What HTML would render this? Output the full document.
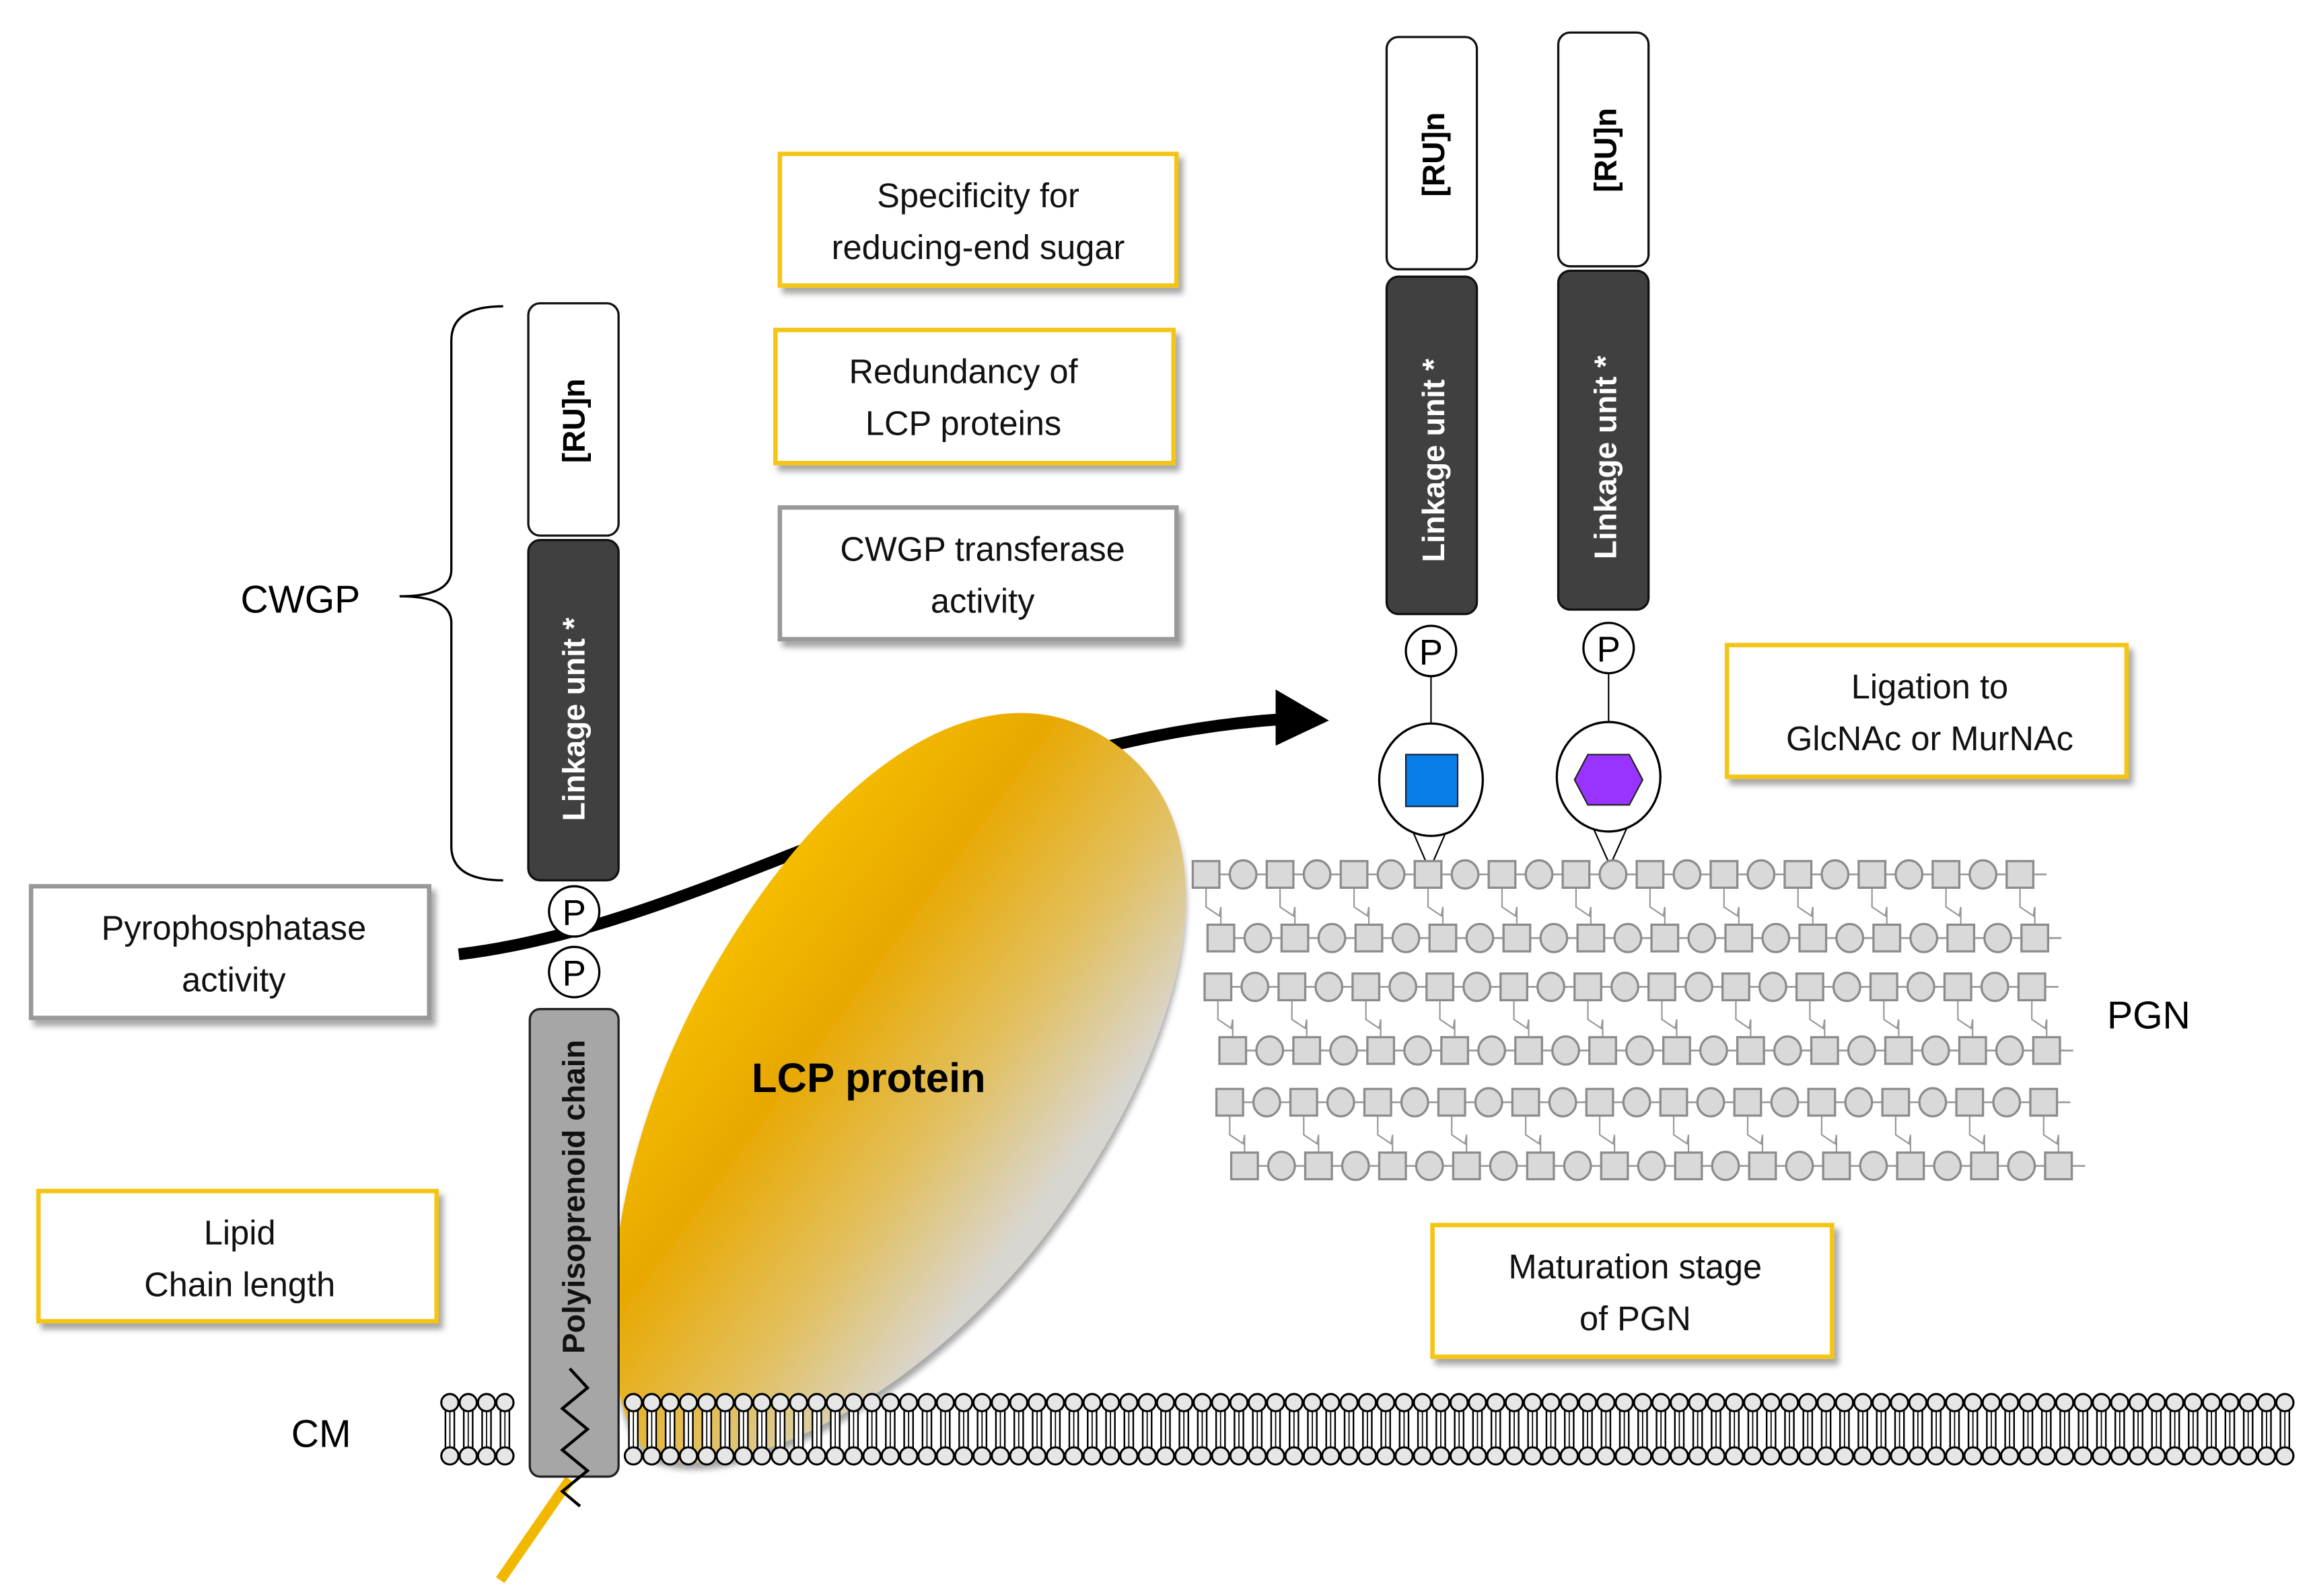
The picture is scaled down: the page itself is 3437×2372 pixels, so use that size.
<!DOCTYPE html>
<html><head><meta charset="utf-8"><style>
html,body{margin:0;padding:0;background:#fff;}
svg{display:block;}
text{font-family:"Liberation Sans",sans-serif;}
</style></head><body>
<svg width="3437" height="2372" viewBox="0 0 1563 1078.7" preserveAspectRatio="none" xmlns="http://www.w3.org/2000/svg">
<defs>
<linearGradient id="lcp" x1="0" y1="0" x2="1" y2="0.15">
<stop offset="0" stop-color="#f7c000"/><stop offset="0.35" stop-color="#e8a800"/><stop offset="0.7" stop-color="#e2c060"/><stop offset="1" stop-color="#d8d6d0"/>
</linearGradient>
<filter id="sh" x="-10%" y="-10%" width="130%" height="140%"><feDropShadow dx="3" dy="4" stdDeviation="2" flood-color="#000" flood-opacity="0.35"/></filter>
</defs>

<path d="M310,645 C480,625 650,500 868,486" fill="none" stroke="#000" stroke-width="8"/>
<polygon points="862,466 898,487 862,504" fill="#000"/>

<line x1="385" y1="1000" x2="338" y2="1068" stroke="#f2b800" stroke-width="7"/>
<g transform="translate(598,738) rotate(32)">
<path d="M0,-282 C105,-282 152,-150 145,0 C138,150 60,282 -5,292 C-60,282 -135,150 -142,0 C-150,-150 -105,-282 0,-282 Z" fill="url(#lcp)" filter="url(#sh)"/>
</g>
<text x="587" y="738" font-size="28" font-weight="bold" text-anchor="middle">LCP protein</text>

<rect x="358" y="682" width="60" height="316" rx="7" fill="#a6a6a6" stroke="#222" stroke-width="1.5"/>
<text transform="translate(395,915) rotate(-90)" font-size="21" font-weight="bold" fill="#111">Polyisoprenoid chain</text>
<polyline points="385,925 397,938 380,952 397,966 380,980 397,994 380,1008 392,1018" fill="none" stroke="#000" stroke-width="2"/>

<circle cx="388" cy="616" r="17" fill="#fff" stroke="#000" stroke-width="1.5"/>
<text x="388" y="625" font-size="24" text-anchor="middle">P</text>
<circle cx="388" cy="657" r="17" fill="#fff" stroke="#000" stroke-width="1.5"/>
<text x="388" y="666" font-size="24" text-anchor="middle">P</text>

<rect x="357" y="365" width="61" height="230" rx="8" fill="#404040" stroke="#111" stroke-width="1.5"/>
<text transform="translate(395,555) rotate(-90)" font-size="21" font-weight="bold" fill="#fff">Linkage unit *</text>
<rect x="357" y="205" width="61" height="157" rx="8" fill="#fff" stroke="#111" stroke-width="1.5"/>
<text transform="translate(395,313) rotate(-90)" font-size="21" font-weight="bold">[RU]n</text>
<path d="M340,207 Q305,207 305,230 L305,385 Q305,403 270,403 Q305,403 305,421 L305,572 Q305,595 340,595" fill="none" stroke="#000" stroke-width="1.5"/>
<text x="203" y="414" font-size="26" text-anchor="middle">CWGP</text>

<rect x="937" y="25" width="61" height="157" rx="8" fill="#fff" stroke="#111" stroke-width="1.5"/>
<text transform="translate(976,133) rotate(-90)" font-size="21" font-weight="bold">[RU]n</text>
<rect x="937" y="187" width="61" height="228" rx="8" fill="#404040" stroke="#111" stroke-width="1.5"/>
<text transform="translate(976,380) rotate(-90)" font-size="21" font-weight="bold" fill="#fff">Linkage unit *</text>
<rect x="1053" y="22" width="61" height="158" rx="8" fill="#fff" stroke="#111" stroke-width="1.5"/>
<text transform="translate(1092,130) rotate(-90)" font-size="21" font-weight="bold">[RU]n</text>
<rect x="1053" y="183" width="61" height="229" rx="8" fill="#404040" stroke="#111" stroke-width="1.5"/>
<text transform="translate(1092,378) rotate(-90)" font-size="21" font-weight="bold" fill="#fff">Linkage unit *</text>

<line x1="967" y1="457" x2="967" y2="510" stroke="#000" stroke-width="1"/>
<line x1="1087" y1="455" x2="1087" y2="508" stroke="#000" stroke-width="1"/>
<circle cx="967" cy="440" r="17" fill="#fff" stroke="#000" stroke-width="1.5"/>
<text x="967" y="449" font-size="24" text-anchor="middle">P</text>
<circle cx="1087" cy="438" r="17" fill="#fff" stroke="#000" stroke-width="1.5"/>
<text x="1087" y="447" font-size="24" text-anchor="middle">P</text>
<polygon points="953,558 966,588 979,558" fill="#fff" stroke="#000" stroke-width="1"/>
<ellipse cx="967" cy="527" rx="35" ry="38" fill="#fff" stroke="#000" stroke-width="1.5"/>
<rect x="950" y="510" width="35" height="35" fill="#0a7ee8" stroke="#123" stroke-width="1"/>
<polygon points="1075,556 1088,585 1101,556" fill="#fff" stroke="#000" stroke-width="1"/>
<ellipse cx="1087" cy="525" rx="35" ry="37" fill="#fff" stroke="#000" stroke-width="1.5"/>
<polygon points="1073,510 1101,510 1110,527 1101,544 1073,544 1064,527" fill="#9933ff" stroke="#222" stroke-width="1"/>

<g font-size="23" text-anchor="middle" fill="#111">
<rect x="527" y="104" width="268" height="89" fill="#fff" stroke="#f5c518" stroke-width="3" filter="url(#sh)"/>
<text x="661" y="140">Specificity for</text><text x="661" y="175">reducing-end sugar</text>
<rect x="524" y="223" width="269" height="90" fill="#fff" stroke="#f5c518" stroke-width="3" filter="url(#sh)"/>
<text x="651" y="259">Redundancy of</text><text x="651" y="294">LCP proteins</text>
<rect x="527" y="343" width="268" height="89" fill="#fff" stroke="#999" stroke-width="3" filter="url(#sh)"/>
<text x="664" y="379">CWGP transferase</text><text x="664" y="414">activity</text>
<rect x="21" y="599" width="269" height="89" fill="#fff" stroke="#999" stroke-width="3" filter="url(#sh)"/>
<text x="158" y="635">Pyrophosphatase</text><text x="158" y="670">activity</text>
<rect x="26" y="805" width="269" height="88" fill="#fff" stroke="#f5c518" stroke-width="3" filter="url(#sh)"/>
<text x="162" y="841">Lipid</text><text x="162" y="876">Chain length</text>
<rect x="1167" y="436" width="270" height="89" fill="#fff" stroke="#f5c518" stroke-width="3" filter="url(#sh)"/>
<text x="1304" y="472">Ligation to</text><text x="1304" y="507">GlcNAc or MurNAc</text>
<rect x="968" y="828" width="270" height="89" fill="#fff" stroke="#f5c518" stroke-width="3" filter="url(#sh)"/>
<text x="1105" y="864">Maturation stage</text><text x="1105" y="899">of PGN</text>
</g>
<text x="1452" y="695" font-size="26" text-anchor="middle">PGN</text>
<text x="217" y="978" font-size="26" text-anchor="middle">CM</text>

<g id="pgn"></g>
<g id="membrane"></g>
<script>
(function(){
var NS="http://www.w3.org/2000/svg";
function el(p,t,a){var e=document.createElementNS(NS,t);for(var k in a)e.setAttribute(k,a[k]);p.appendChild(e);return e;}
var g=document.getElementById("pgn");
var rows=[[815,591],[825,634],[823,667],[833,710],[831,745],[841,788]];
rows.forEach(function(r,ri){
  var x0=r[0],y=r[1];
  el(g,"line",{x1:x0-9,y1:y,x2:x0+22*25+18,y2:y,stroke:"#999","stroke-width":1.2});
  if(ri%2==0){
    var r2=rows[ri+1];
    for(var i=0;i<12;i++){
      var xs=x0+i*50, xe=r2[0]+i*50;
      el(g,"polyline",{points:xs+","+(y+9)+" "+xs+","+(y+22)+" "+(xe-1)+","+(y+28)+" "+(xe)+","+(y+22)+" "+xe+","+(r2[1]-9),fill:"none",stroke:"#999","stroke-width":1});
    }
  }
  for(var i=0;i<23;i++){
    var x=x0+i*25;
    if(i%2==0) el(g,"rect",{x:x-9,y:y-9,width:18,height:18,fill:"#d9d9d9",stroke:"#8c8c8c","stroke-width":1.5});
    else el(g,"ellipse",{cx:x,cy:y,rx:9,ry:9.5,fill:"#d9d9d9",stroke:"#8c8c8c","stroke-width":1.5});
  }
});
var m=document.getElementById("membrane");
var sp=12.4;
for(var x=304;x<1548;x+=sp){
  if(x>352&&x<424) continue;
  el(m,"rect",{x:x-3,y:951,width:6,height:28,fill:"#fff",stroke:"#000","stroke-width":1.1});
  el(m,"line",{x1:x,y1:951,x2:x,y2:979,stroke:"#000","stroke-width":0.8});
  el(m,"circle",{cx:x,cy:948,r:5.8,fill:"#e6e6e6",stroke:"#000","stroke-width":1.4});
  el(m,"circle",{cx:x,cy:984,r:5.8,fill:"#e6e6e6",stroke:"#000","stroke-width":1.4});
}
})();
</script>
</svg>
</body></html>
